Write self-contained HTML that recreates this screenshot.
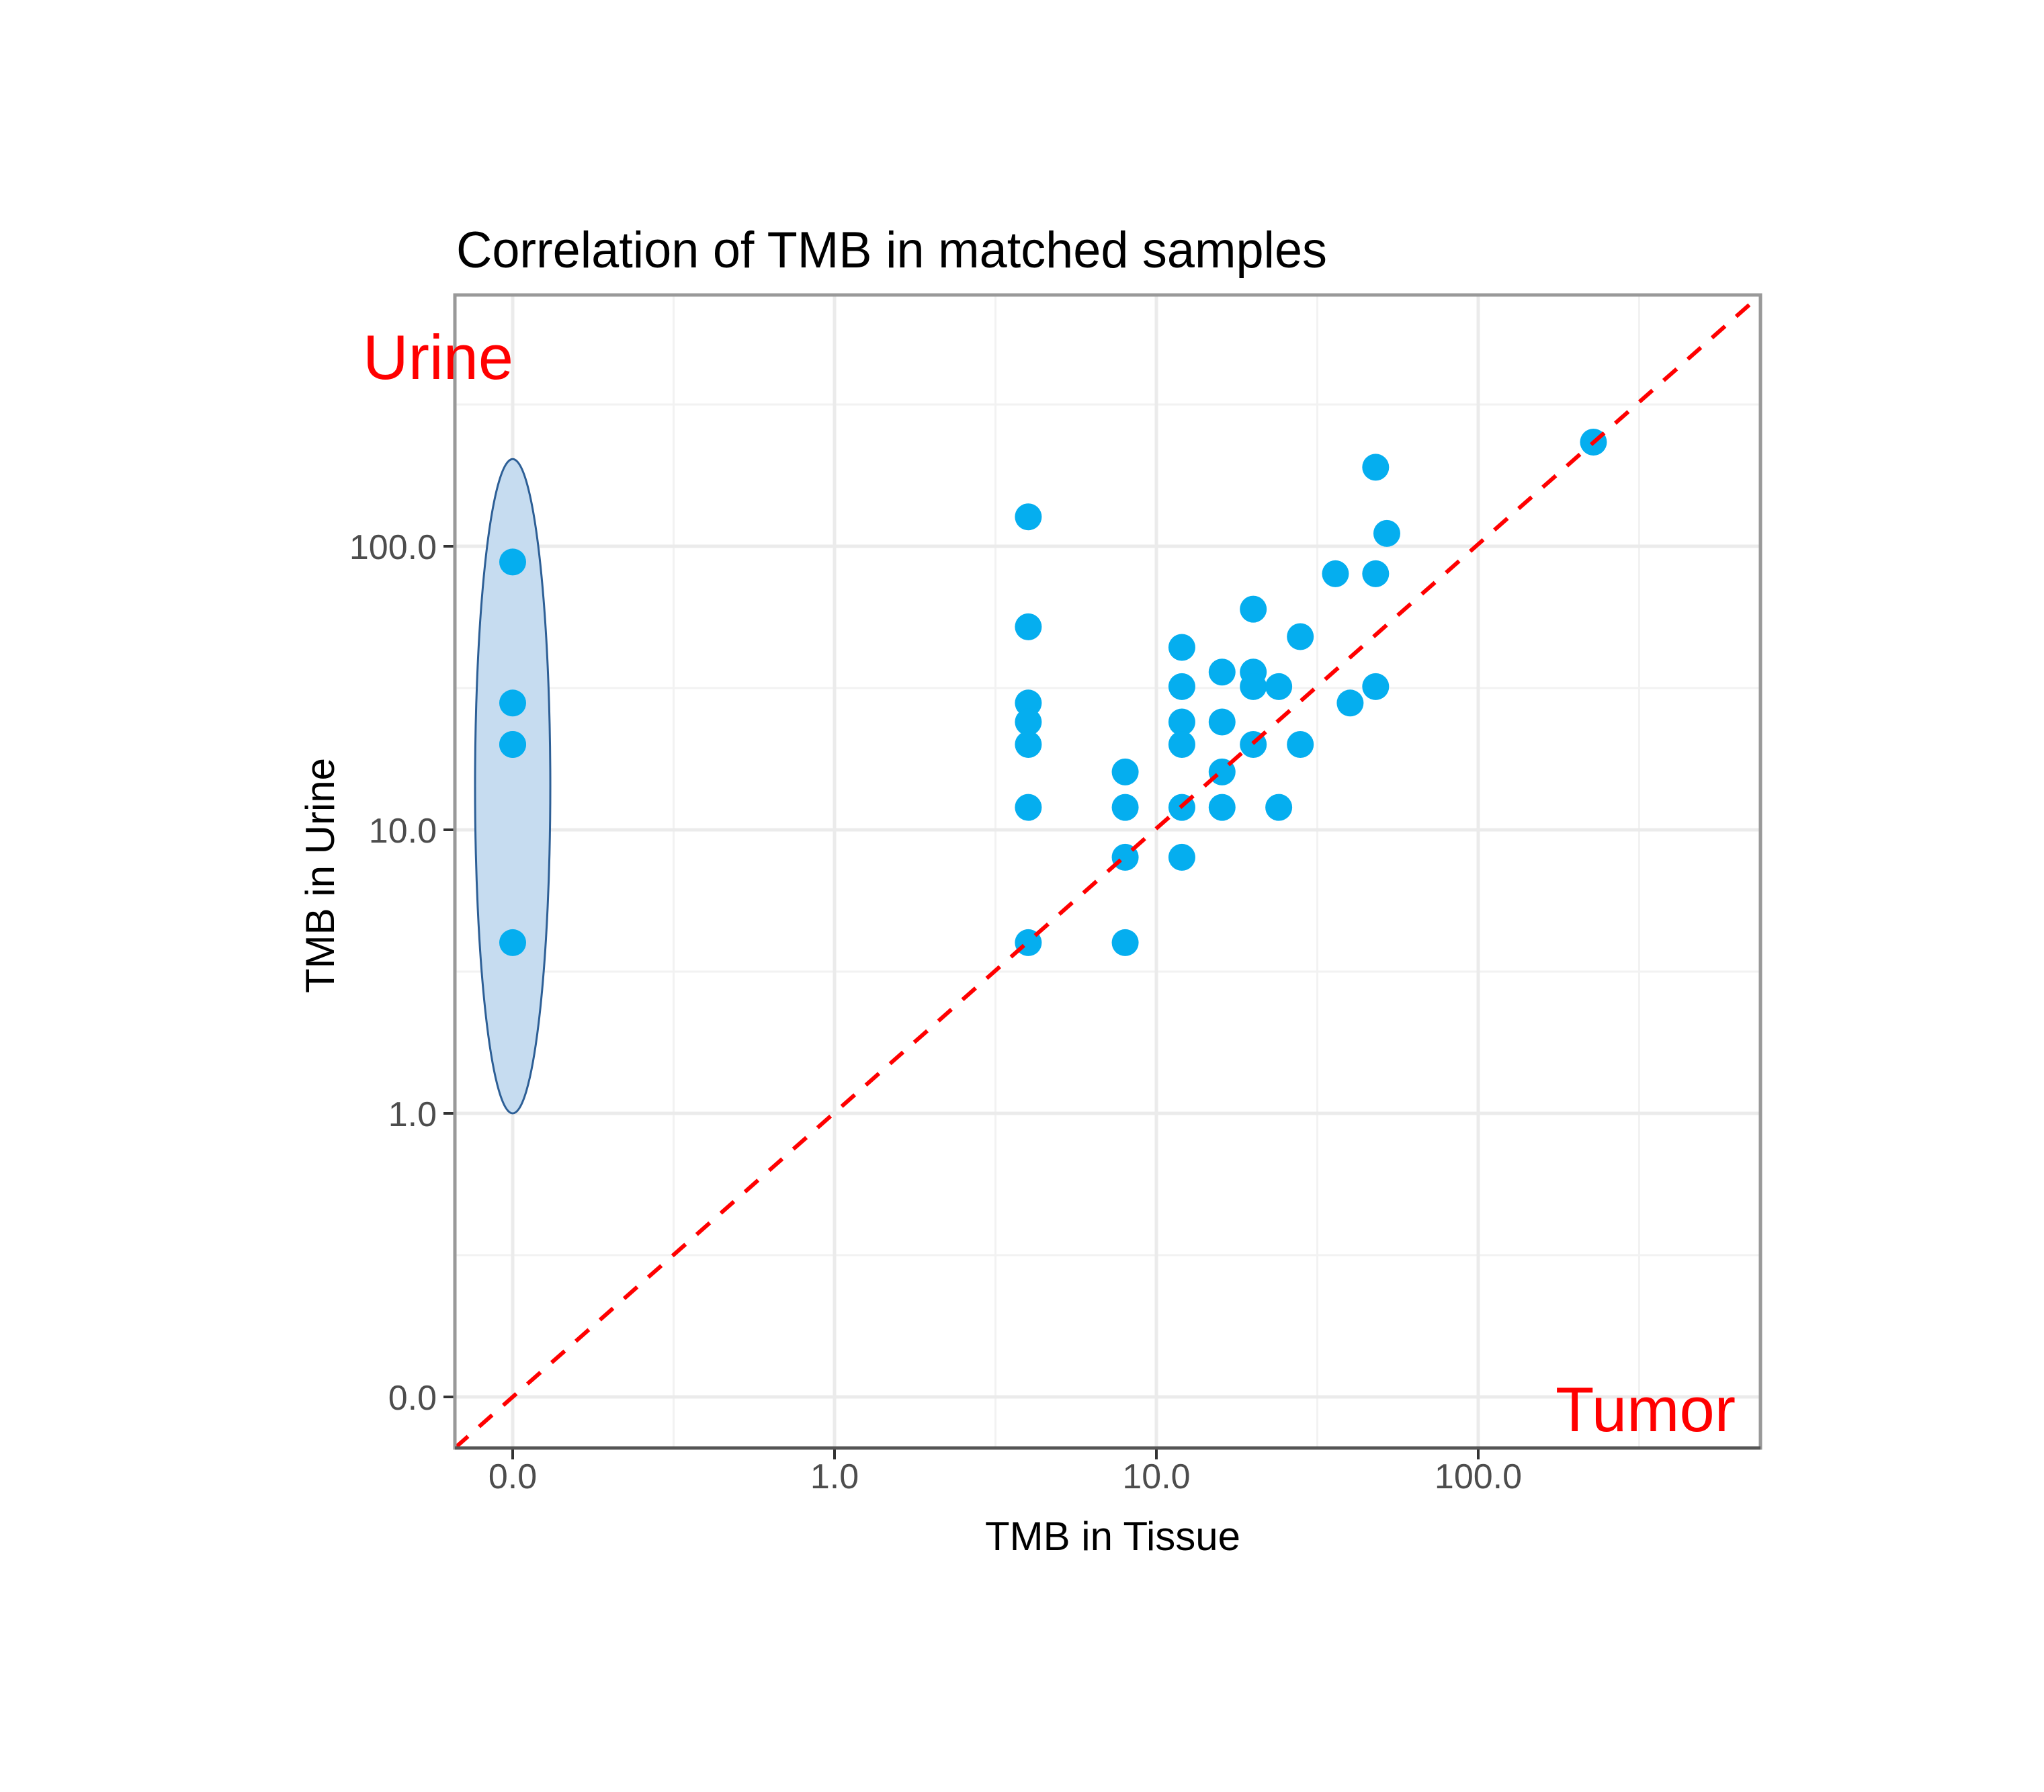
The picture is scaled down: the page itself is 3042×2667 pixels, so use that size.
<!DOCTYPE html>
<html><head><meta charset="utf-8"><title>Correlation of TMB in matched samples</title>
<style>
html,body{margin:0;padding:0;background:#fff;}
svg{display:block;}
text{font-family:"Liberation Sans",Arial,sans-serif;}
</style></head>
<body>
<svg id="chart" width="3042" height="2667" viewBox="0 0 3042 2667" xmlns="http://www.w3.org/2000/svg">
<rect x="0" y="0" width="3042" height="2667" fill="#ffffff"/>
<g id="grid"></g>
<g id="annot"></g>
<g id="points"></g>
<g id="axes"></g>
<text x="679" y="398" font-size="76" fill="#000" textLength="1296" lengthAdjust="spacingAndGlyphs">Correlation of TMB in matched samples</text>
<text x="1656" y="2307" font-size="60" fill="#000" text-anchor="middle">TMB in Tissue</text>
<text transform="translate(497,1303) rotate(-90)" font-size="60" fill="#000" text-anchor="middle">TMB in Urine</text>
<text x="540" y="564" font-size="94" fill="#ff0000" textLength="224" lengthAdjust="spacingAndGlyphs">Urine</text>
<text x="2315" y="2130" font-size="94" fill="#ff0000" textLength="268" lengthAdjust="spacingAndGlyphs">Tumor</text>
</svg>
<script>
// data
const tissueTMB = [0,0,0,0,0, 4,4,4,4,4,4,4, 8,8,8,8, 12,12,12,12,12,12, 16,16,16,16, 20,20,20,20, 24,24, 28,28, 36, 40, 48,48,48, 52, 228];
const urineTMB  = [88,28,20,20,4, 127,52,28,24,20,12,4, 16,12,8,4, 44,32,24,20,12,8, 36,24,16,12, 60,36,32,20, 32,12, 48,20, 80, 28, 190,80,32, 111, 233];
const tickValues = [0,1,10,100];
const tickLabels = ["0.0","1.0","10.0","100.0"];
const ellipseX = 0;
const ellipseYLow = 1;
const ellipseYHigh = 203;

// axes geometry
const L=677,R=2620,T=439,B=2155;
const X0=763, XD=479;   // x position of 0 and per-decade spacing
const Y0=2079, YD=422;
function tr(v){ return v<=0 ? 0 : Math.log10(v)+1; }
function xs(v){ return X0 + tr(v)*XD; }
function ys(v){ return Y0 - tr(v)*YD; }
const NS="http://www.w3.org/2000/svg";
function mk(tag,attrs,parent){const e=document.createElementNS(NS,tag);for(const k in attrs)e.setAttribute(k,attrs[k]);parent.appendChild(e);return e;}

const grid=document.getElementById('grid');
const annot=document.getElementById('annot');
const pts=document.getElementById('points');
const axes=document.getElementById('axes');

// minor gridlines (midpoints)
for(let i=0;i<tickValues.length+1;i++){
  const t=i-0.5;
  const gx=X0+t*XD;
  if(gx>L&&gx<R){
    const l=mk('line',{x1:gx,x2:gx,y1:T,y2:B,stroke:'#f2f2f2','stroke-width':3},grid);
    
    
  }
  const gy=Y0-t*YD;
  if(gy>T&&gy<B){
    const l=mk('line',{x1:L,x2:R,y1:gy,y2:gy,stroke:'#f2f2f2','stroke-width':3},grid);
    
    
  }
}
// major gridlines + ticks + labels
tickValues.forEach((v,i)=>{
  const gx=xs(v), gy=ys(v);
  const lx=mk('line',{x1:gx,x2:gx,y1:T,y2:B,stroke:'#ebebeb','stroke-width':5},grid);
  
  
  const ly=mk('line',{x1:L,x2:R,y1:gy,y2:gy,stroke:'#ebebeb','stroke-width':5},grid);
  
  
  const tx=mk('line',{x1:gx,x2:gx,y1:B,y2:B+17,stroke:'#333','stroke-width':4},axes);
  
  
  const ty=mk('line',{x1:L-17,x2:L,y1:gy,y2:gy,stroke:'#333','stroke-width':4},axes);
  
  
  const xl=mk('text',{x:gx,y:B+60,'font-size':52,fill:'#4d4d4d','text-anchor':'middle'},axes);
  xl.textContent=tickLabels[i];
  
  
  const yl=mk('text',{x:L-27,y:gy+19,'font-size':52,fill:'#4d4d4d','text-anchor':'end'},axes);
  yl.textContent=tickLabels[i];
  
  
});

// ellipse
const ecx=xs(ellipseX), ey1=ys(ellipseYHigh), ey2=ys(ellipseYLow);
const ell=mk('ellipse',{cx:ecx,cy:(ey1+ey2)/2,rx:56,ry:(ey2-ey1)/2,fill:'#c6dcf0',stroke:'#2d5f96','stroke-width':3},annot);



// points
tissueTMB.forEach((v,i)=>{
  const c=mk('circle',{cx:xs(v),cy:ys(urineTMB[i]),r:20,fill:'#05aeef'},pts);
  
  
});

// diagonal identity line (corner to corner)
const d=mk('line',{x1:L,y1:B,x2:R,y2:T,stroke:'#ff0000','stroke-width':6,'stroke-dasharray':'26 22'},pts);



// panel border
const br=mk('rect',{x:L,y:T,width:R-L,height:B-T,fill:'none',stroke:'#999','stroke-width':5},axes);


const bx=mk('line',{x1:L,x2:R,y1:B,y2:B,stroke:'#555','stroke-width':5},axes);


</script>
</body></html>
